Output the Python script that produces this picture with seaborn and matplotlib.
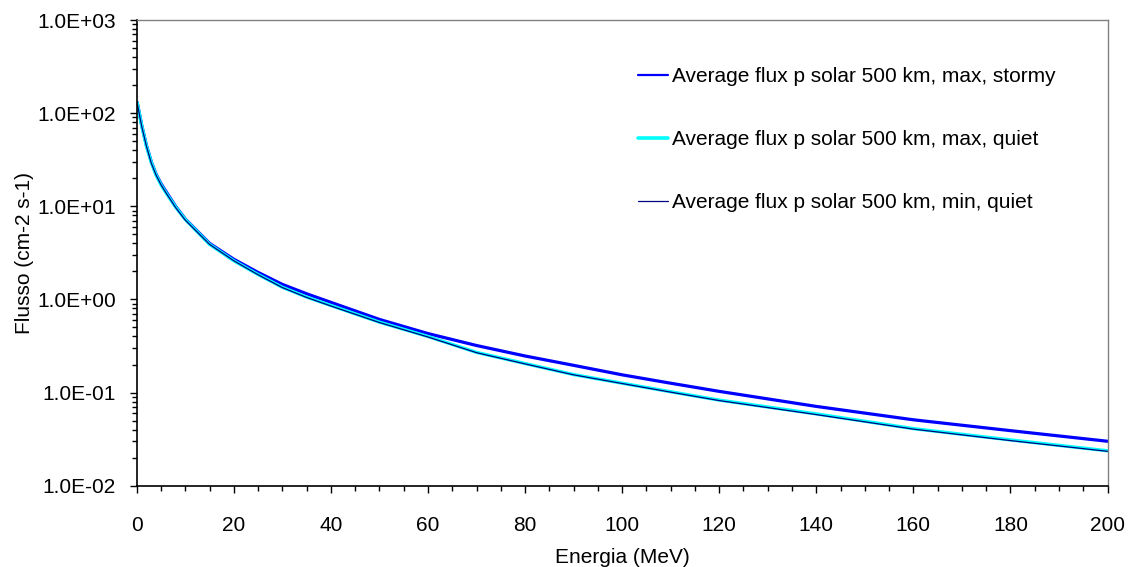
import numpy as np
import pandas as pd
import seaborn as sns
import matplotlib
matplotlib.use("Agg")
import matplotlib.pyplot as plt
from matplotlib.lines import Line2D
from matplotlib.ticker import FuncFormatter, MultipleLocator, LogLocator, NullFormatter

# energies (MeV) and average proton flux
energy = [0.1, 1, 2, 3, 4, 5, 6, 8, 10, 15, 20, 25, 30, 35, 40, 50, 60, 70,
          80, 90, 100, 110, 120, 140, 160, 180, 200]
flux_max_stormy = [130, 75, 45, 30, 22, 17.5, 14.5, 10, 7.3, 4.0, 2.7, 1.95,
                   1.45, 1.15, 0.93, 0.61, 0.43, 0.32, 0.247, 0.196, 0.155,
                   0.126, 0.103, 0.071, 0.051, 0.039, 0.030]
flux_max_quiet = [128, 74, 44, 29.5, 21.5, 17, 14, 9.8, 7.2, 3.9, 2.6, 1.85,
                  1.35, 1.06, 0.86, 0.57, 0.40, 0.27, 0.205, 0.156, 0.126,
                  0.102, 0.083, 0.059, 0.041, 0.031, 0.0237]
flux_min_quiet = [127, 73, 44, 29, 21.5, 17, 14, 9.7, 7.1, 3.9, 2.6, 1.84,
                  1.34, 1.05, 0.85, 0.565, 0.395, 0.268, 0.203, 0.155, 0.125,
                  0.101, 0.082, 0.058, 0.0405, 0.0305, 0.0234]

labels = ["Average flux p solar 500 km, max, stormy",
          "Average flux p solar 500 km, max, quiet",
          "Average flux p solar 500 km, min, quiet"]
colors = ["#0000FF", "#00FFFF", "#000080"]

df = pd.DataFrame({"Energia": energy,
                   "stormy": flux_max_stormy,
                   "maxquiet": flux_max_quiet,
                   "minquiet": flux_min_quiet})

sns.set_theme(style="white")
plt.rcParams["font.family"] = ["Liberation Sans", "DejaVu Sans"]
plt.rcParams["text.color"] = "black"
FS = 15

fig = plt.figure(figsize=(11.33, 5.67), dpi=100)
ax = fig.add_axes([0.1207, 0.1434, 0.8568, 0.8213])

# draw order: stormy, then cyan, then thin navy on top
sns.lineplot(data=df, x="Energia", y="stormy", ax=ax, color=colors[0], lw=2.3)
sns.lineplot(data=df, x="Energia", y="maxquiet", ax=ax, color=colors[1], lw=2.4)
sns.lineplot(data=df, x="Energia", y="minquiet", ax=ax, color=colors[2], lw=0.9)

ax.set_yscale("log")
ax.set_ylim(1e-2, 1e3)
ax.set_xlim(0, 200)
ax.xaxis.set_major_locator(MultipleLocator(20))
ax.xaxis.set_minor_locator(MultipleLocator(5))
ax.yaxis.set_major_locator(LogLocator(base=10, numticks=10))
ax.yaxis.set_minor_locator(LogLocator(base=10, subs=np.arange(2, 10), numticks=20))
ax.yaxis.set_minor_formatter(NullFormatter())
ax.yaxis.set_major_formatter(FuncFormatter(lambda v, p: f"{v:.1E}"))

ax.tick_params(axis="both", which="major", direction="out", length=5, width=1,
               color="black", labelsize=FS, labelcolor="black")
ax.tick_params(axis="both", which="minor", direction="out", length=3.5, width=1,
               color="black")
ax.tick_params(axis="x", which="major", pad=17)
ax.tick_params(axis="y", which="major", pad=10)
ax.tick_params(left=True, bottom=True, which="both")

for s in ["left", "bottom"]:
    ax.spines[s].set_color("black")
    ax.spines[s].set_linewidth(1.2)
for s in ["top", "right"]:
    ax.spines[s].set_color("#808080")
    ax.spines[s].set_linewidth(1.0)

ax.set_xlabel("")
ax.set_ylabel("Flusso (cm-2 s-1)", fontsize=FS, color="black")
ax.yaxis.set_label_coords(-0.1055, 0.5)
fig.text(0.5489, 1 - 563 / 567, "Energia (MeV)", fontsize=FS, ha="center",
         va="baseline", color="black")

handles = [Line2D([], [], color=colors[0], lw=1.6),
           Line2D([], [], color=colors[1], lw=2.6),
           Line2D([], [], color=colors[2], lw=0.9)]
leg = ax.legend(handles, labels, loc="upper left", bbox_to_anchor=(0.5634, 0.881),
                bbox_transform=fig.transFigure, frameon=False, fontsize=FS,
                borderpad=0, borderaxespad=0, handlelength=1.41, handletextpad=0.19,
                labelspacing=2.11)
for t in leg.get_texts():
    t.set_color("black")

fig.savefig("out.png", dpi=100)
